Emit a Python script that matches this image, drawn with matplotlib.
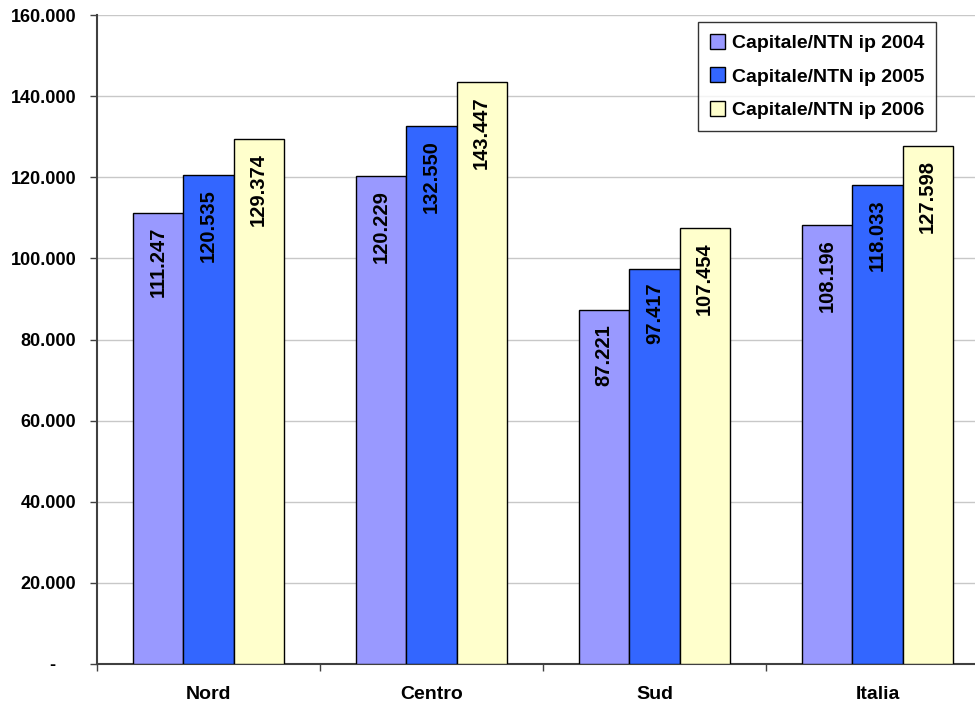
import numpy as np
import matplotlib.pyplot as plt
from matplotlib.ticker import FuncFormatter, FixedLocator

plt.rcParams['font.family'] = ['Liberation Sans', 'DejaVu Sans']
plt.rcParams['font.weight'] = 'bold'

regioni = ['Nord', 'Centro', 'Sud', 'Italia']
anni = ['Capitale/NTN ip 2004', 'Capitale/NTN ip 2005', 'Capitale/NTN ip 2006']
val_2004 = [111247, 120229, 87221, 108196]
val_2005 = [120535, 132550, 97417, 118033]
val_2006 = [129374, 143447, 107454, 127598]
colori = ['#9999ff', '#3366ff', '#ffffcc']


def fmt_y(v, pos):
    # lo zero viene scritto come trattino (formato contabile)
    if v == 0:
        return '-    '
    return f'{int(v):,}'.replace(',', '.')


fig = plt.figure(figsize=(9.75, 7.04), dpi=100)
# la zona del grafico esce a destra come nell'originale
ax = fig.add_axes([97 / 975, 1 - 664 / 704, 892 / 975, (664 - 15) / 704])

x = np.arange(len(regioni))
w = 0.225
for i, (serie, nome) in enumerate(zip([val_2004, val_2005, val_2006], anni)):
    pos = x + (i - 1) * w
    ax.bar(pos, serie, w, color=colori[i], edgecolor='black', linewidth=1.0,
           label=nome, zorder=3)
    for px, v in zip(pos, serie):
        ax.annotate(f'{v / 1000:.3f}', (px, v), xytext=(0, -10),
                    textcoords='offset points', rotation=90, ha='center',
                    va='top', fontsize=14.5, fontweight='bold', zorder=4)

ax.set_xlim(-0.5, 3.5)
ax.set_ylim(0, 160000)
ax.set_yticks(np.arange(0, 160001, 20000))
ax.yaxis.set_major_formatter(FuncFormatter(fmt_y))
ax.yaxis.grid(True, color='#c8c8c8', linewidth=1, zorder=0)

ax.set_xticks(x)
ax.set_xticklabels(regioni, fontsize=14, fontweight='bold')
ax.xaxis.set_minor_locator(FixedLocator([-0.5, 0.5, 1.5, 2.5]))
ax.tick_params(axis='x', which='major', length=0, pad=16)
ax.tick_params(axis='x', which='minor', length=5, width=1, color='#404040')
ax.tick_params(axis='y', length=5, width=1, color='#404040', labelsize=13, pad=10)
for lab in ax.get_yticklabels():
    lab.set_fontweight('bold')

for s in ['top', 'right']:
    ax.spines[s].set_visible(False)
for s in ['left', 'bottom']:
    ax.spines[s].set_color('#404040')
    ax.spines[s].set_linewidth(1.5)

leg = fig.legend(loc='upper left', bbox_to_anchor=(698 / 975, 1 - 22 / 704),
                 borderaxespad=0, frameon=True, fancybox=False, handlelength=0.8,
                 handleheight=0.8, handletextpad=0.35, labelspacing=0.8,
                 borderpad=0.6, prop={'weight': 'bold', 'size': 14})
leg.get_frame().set_edgecolor('black')
leg.get_frame().set_linewidth(1.0)

fig.savefig('out.png', dpi=100)
